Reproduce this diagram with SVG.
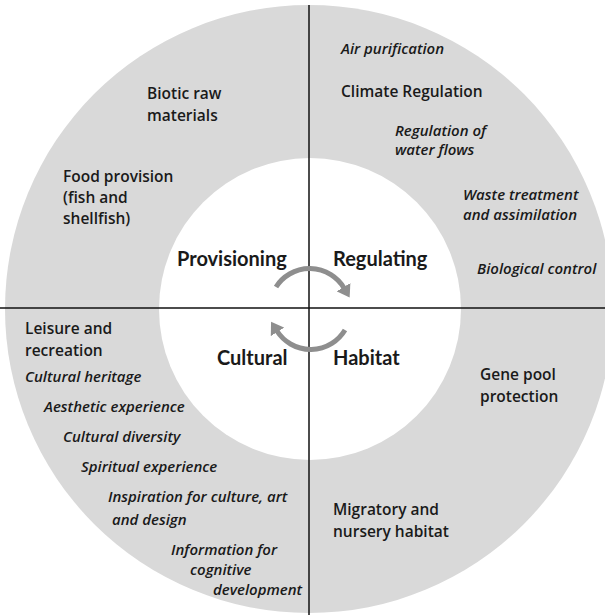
<svg xmlns="http://www.w3.org/2000/svg" width="605" height="615" viewBox="0 0 605 615">
<style>
text{font-family:"Open Sans","Liberation Sans",sans-serif;fill:#1a1a1a}
.t{font-size:15.5px;font-weight:600}
.i{font-size:15px;font-style:italic;font-weight:600}
.h{font-size:20px;font-weight:bold;font-family:Lato,"Open Sans",sans-serif}
.arc{fill:none;stroke:#8e8e8e;stroke-width:5}
</style>
<defs>
<marker id="ah" markerUnits="userSpaceOnUse" viewBox="0 0 12 16" refX="1" refY="8" markerWidth="12" markerHeight="16" orient="auto">
<path d="M0,0 L12,8 L0,16 z" fill="#8e8e8e"/>
</marker>
</defs>
<rect width="605" height="615" fill="#fff"/>
<g id="rings">
<circle cx="309" cy="309" r="304" fill="#d9d9d9"/>
<circle cx="310" cy="309" r="151" fill="#fff"/>
<line x1="309" y1="5" x2="309" y2="615" stroke="#111" stroke-width="1.5"/>
<line x1="0" y1="308" x2="605" y2="308" stroke="#111" stroke-width="1.5"/>
</g>
<g id="provisioning">
<text class="h" x="177" y="266">Provisioning</text>
<text class="t" x="147" y="99">Biotic raw</text>
<text class="t" x="147" y="121">materials</text>
<text class="t" x="63" y="182">Food provision</text>
<text class="t" x="63" y="203">(fish and</text>
<text class="t" x="63" y="224">shellfish)</text>
</g>
<g id="regulating">
<text class="h" x="333" y="266">Regulating</text>
<text class="i" x="341" y="54">Air purification</text>
<text class="t" x="341" y="97">Climate Regulation</text>
<text class="i" x="395" y="136">Regulation of</text>
<text class="i" x="395" y="155">water flows</text>
<text class="i" x="463" y="200">Waste treatment</text>
<text class="i" x="463" y="220">and assimilation</text>
<text class="i" x="477" y="274">Biological control</text>
</g>
<g id="cultural">
<text class="h" x="217" y="365">Cultural</text>
<text class="t" x="25" y="334">Leisure and</text>
<text class="t" x="25" y="356">recreation</text>
<text class="i" x="25" y="382">Cultural heritage</text>
<text class="i" x="44" y="412">Aesthetic experience</text>
<text class="i" x="63" y="442">Cultural diversity</text>
<text class="i" x="81" y="472">Spiritual experience</text>
<text class="i" x="108" y="502">Inspiration for culture, art</text>
<text class="i" x="112" y="525">and design</text>
<text class="i" x="171" y="555">Information for</text>
<text class="i" x="190" y="575">cognitive</text>
<text class="i" x="213" y="595">development</text>
</g>
<g id="habitat">
<text class="h" x="333" y="365">Habitat</text>
<text class="t" x="480" y="380">Gene pool</text>
<text class="t" x="480" y="402">protection</text>
<text class="t" x="333" y="515">Migratory and</text>
<text class="t" x="333" y="537">nursery habitat</text>
</g>
<g id="connectors">
<path class="arc" d="M276,287 A40,40 0 0,1 344,288" marker-end="url(#ah)"/>
<path class="arc" d="M345,330 A40,40 0 0,1 277,331" marker-end="url(#ah)"/>
</g>
</svg>
